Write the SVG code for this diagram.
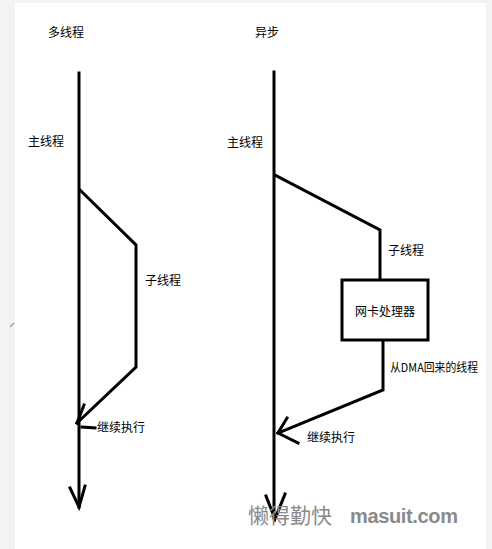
<svg xmlns="http://www.w3.org/2000/svg" width="492" height="549" viewBox="0 0 492 549">
<style>
.ln{stroke:#000;stroke-width:3;fill:none;stroke-linecap:square;stroke-linejoin:miter}
.t{font-family:"Noto Sans CJK SC","Liberation Sans",sans-serif;font-size:12px;fill:#000}
</style>
<rect x="0" y="0" width="492" height="549" fill="#f3f3f3"/>
<rect x="15" y="3" width="471" height="546" fill="#ffffff"/>
<line x1="10" y1="327" x2="14" y2="323" stroke="#7aa7d8" stroke-width="1.5"/>
<g id="connectors">
<line class="ln" x1="79" y1="73" x2="79" y2="507"/>
<polyline class="ln" points="80,190 136,245 136,367 77,423"/>
<polyline class="ln" points="84,405 77,423"/>
<line class="ln" x1="82" y1="427" x2="95" y2="428"/>
<polyline class="ln" points="70,488 79,507 85,486"/>
<line class="ln" x1="274" y1="72" x2="274" y2="518"/>
<polyline class="ln" points="275,175 380,230 380,279"/>
<polyline class="ln" points="383,341 383,390 278,433"/>
<polyline class="ln" points="287,418 278,433 298,443"/>
<polyline class="ln" points="266,496 275,519 285,494"/>
</g>
<g id="title-multi"><text class="t" x="48" y="37">多线程</text></g>
<g id="title-async"><text class="t" x="255" y="37">异步</text></g>
<g id="main-left"><text class="t" x="28" y="146">主线程</text></g>
<g id="main-right"><text class="t" x="227" y="147">主线程</text></g>
<g id="sub-left"><text class="t" x="145" y="285">子线程</text></g>
<g id="sub-right"><text class="t" x="388" y="255">子线程</text></g>
<g id="cont-left"><text class="t" x="97" y="432">继续执行</text></g>
<g id="cont-right"><text class="t" x="307" y="442">继续执行</text></g>
<g id="nic">
<rect x="342" y="280" width="86" height="60" fill="#fff" stroke="#000" stroke-width="3"/>
<text class="t" x="385" y="316" text-anchor="middle">网卡处理器</text>
</g>
<g id="dma"><text class="t" x="390" y="372" textLength="88" lengthAdjust="spacingAndGlyphs">从DMA回来的线程</text></g>
<g id="watermark">
<text x="248" y="523" font-family="Noto Sans CJK SC,sans-serif" font-size="21" fill="#8a8a8a">懒得勤快</text>
<text x="350" y="523" font-family="Liberation Sans,Arial,sans-serif" font-weight="bold" font-size="20" fill="#8a8a8a" textLength="108">masuit.com</text>
</g>
</svg>
